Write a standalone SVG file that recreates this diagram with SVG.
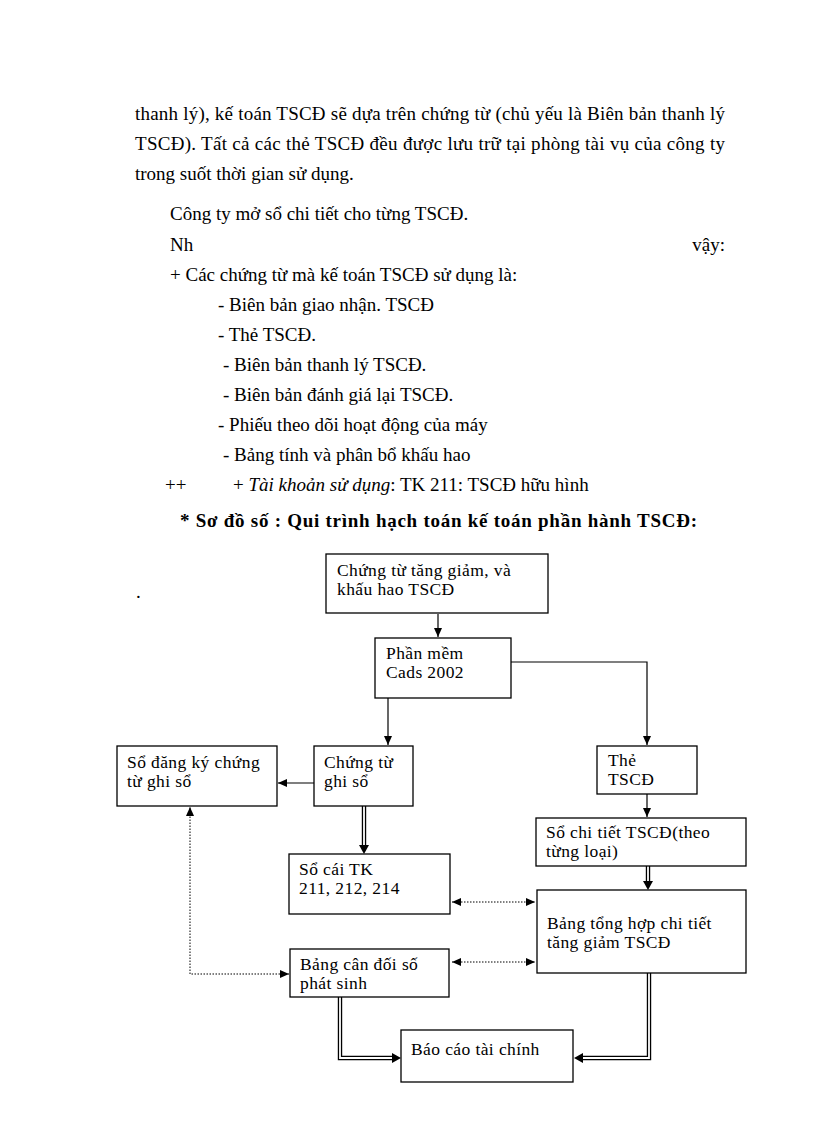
<svg xmlns="http://www.w3.org/2000/svg" width="816" height="1123" viewBox="0 0 816 1123">
<defs>
<style>
.b{font-family:"Liberation Serif","Times New Roman",serif;font-size:19px;fill:#000}
.h{font-family:"Liberation Serif","Times New Roman",serif;font-size:19px;font-weight:bold;fill:#000}
.t{font-family:"Liberation Serif","Times New Roman",serif;font-size:17.5px;letter-spacing:0.4px;fill:#000}
.box{fill:#fff;stroke:#000;stroke-width:1.3}
.ln{fill:none;stroke:#000;stroke-width:1.2}
.dot{fill:none;stroke:#000;stroke-width:1;stroke-dasharray:1.5,1.5}
.dbo{fill:none;stroke:#000;stroke-width:4.4}
.dbi{fill:none;stroke:#fff;stroke-width:1.8}
</style>
<marker id="ar" markerWidth="10" markerHeight="10" refX="9" refY="4" orient="auto-start-reverse" markerUnits="userSpaceOnUse"><path d="M0,0 L9,4 L0,8 z" fill="#000"/></marker>
</defs>
<rect width="816" height="1123" fill="#fff"/>

<g id="body-text">
<text class="b" x="135" y="120" textLength="590" lengthAdjust="spacing">thanh lý), kế toán TSCĐ sẽ dựa trên chứng từ (chủ yếu là Biên bản thanh lý</text>
<text class="b" x="135" y="150" textLength="590" lengthAdjust="spacing">TSCĐ). Tất cả các thẻ TSCĐ đều được lưu trữ tại phòng tài vụ của công ty</text>
<text class="b" x="135" y="180">trong suốt thời gian  sử dụng.</text>
<text class="b" x="170" y="220">Công ty mở sổ chi tiết  cho từng TSCĐ.</text>
<text class="b" x="170" y="251">Nh</text>
<text class="b" x="725" y="251" text-anchor="end">vậy:</text>
<text class="b" x="170" y="281">+ Các chứng từ mà kế toán TSCĐ sử dụng là:</text>
<text class="b" x="218" y="311">- Biên bản giao nhận.  TSCĐ</text>
<text class="b" x="218" y="341">- Thẻ TSCĐ.</text>
<text class="b" x="223" y="371">- Biên  bản thanh lý TSCĐ.</text>
<text class="b" x="223" y="401">- Biên  bản đánh giá lại TSCĐ.</text>
<text class="b" x="218" y="431">- Phiếu theo dõi hoạt động của máy</text>
<text class="b" x="223" y="461">- Bảng tính và phân bổ khấu hao</text>
<text class="b" x="165" y="491">++</text>
<text class="b" x="233" y="491">+ <tspan font-style="italic">Tài khoản sử dụng</tspan>: TK 211:  TSCĐ hữu hình</text>
<text class="h" x="180" y="527" textLength="517" lengthAdjust="spacing">* Sơ đồ số   : Qui trình hạch toán kế toán phần hành TSCĐ:</text>
<text class="b" x="136" y="598">.</text>
</g>

<g id="connectors">
<path class="ln" d="M438,614 V637" marker-end="url(#ar)"/>
<path class="ln" d="M388,698 V745" marker-end="url(#ar)"/>
<path class="ln" d="M511,662 H647 V745" marker-end="url(#ar)"/>
<path class="ln" d="M314,783 H278" marker-end="url(#ar)"/>
<path class="ln" d="M647,794 V817" marker-end="url(#ar)"/>
<path class="dbo" d="M364,806 V846"/><path class="dbi" d="M364,806 V846"/>
<polygon points="359,845 369,845 364,854" fill="#000"/>
<path class="dbo" d="M648,866 V882"/><path class="dbi" d="M648,866 V882"/>
<polygon points="643,881 653,881 648,890" fill="#000"/>
<path class="dot" d="M452,902 H535" marker-start="url(#ar)" marker-end="url(#ar)"/>
<path class="dot" d="M452,962 H535" marker-start="url(#ar)" marker-end="url(#ar)"/>
<path class="dot" d="M289,974 H190 V807" marker-start="url(#ar)" marker-end="url(#ar)"/>
<path class="dbo" d="M340,997 V1058 H393"/><path class="dbi" d="M340,997 V1058 H393"/>
<polygon points="392,1053 392,1063 401,1058" fill="#000"/>
<path class="dbo" d="M649,973 V1058 H582"/><path class="dbi" d="M649,973 V1058 H582"/>
<polygon points="583,1053 583,1063 574,1058" fill="#000"/>
</g>

<g id="n-chungtu">
<rect class="box" x="326" y="554" width="222" height="59"/>
<text class="t" x="337" y="576">Chứng từ tăng giảm, và<tspan x="337" dy="19">khấu hao TSCĐ</tspan></text>
</g>
<g id="n-phanmem">
<rect class="box" x="375" y="638" width="136" height="60"/>
<text class="t" x="386" y="659">Phần mềm<tspan x="386" dy="19">Cads 2002</tspan></text>
</g>
<g id="n-sodangky">
<rect class="box" x="117" y="746" width="160" height="60"/>
<text class="t" x="127" y="768">Sổ đăng ký chứng<tspan x="127" dy="19">từ ghi sổ</tspan></text>
</g>
<g id="n-chungtughiso">
<rect class="box" x="314" y="746" width="99" height="60"/>
<text class="t" x="324" y="768">Chứng từ<tspan x="324" dy="19">ghi sổ</tspan></text>
</g>
<g id="n-the">
<rect class="box" x="597" y="746" width="100" height="48"/>
<text class="t" x="608" y="766">Thẻ<tspan x="608" dy="19">TSCĐ</tspan></text>
</g>
<g id="n-sochitiet">
<rect class="box" x="536" y="818" width="210" height="48"/>
<text class="t" x="546" y="838">Sổ chi tiết TSCĐ(theo<tspan x="546" dy="19">từng loại)</tspan></text>
</g>
<g id="n-socai">
<rect class="box" x="289" y="854" width="161" height="60"/>
<text class="t" x="299" y="875">Sổ cái TK<tspan x="299" dy="19">211, 212, 214</tspan></text>
</g>
<g id="n-bangtonghop">
<rect class="box" x="537" y="890" width="209" height="83"/>
<text class="t" x="547" y="929">Bảng tổng hợp chi tiết<tspan x="547" dy="19">tăng giảm TSCĐ</tspan></text>
</g>
<g id="n-bangcandoi">
<rect class="box" x="290" y="949" width="159" height="48"/>
<text class="t" x="300" y="970">Bảng cân đối số<tspan x="300" dy="19">phát sinh</tspan></text>
</g>
<g id="n-baocao">
<rect class="box" x="401" y="1030" width="172" height="52"/>
<text class="t" x="411" y="1055">Báo cáo tài chính</text>
</g>
</svg>
